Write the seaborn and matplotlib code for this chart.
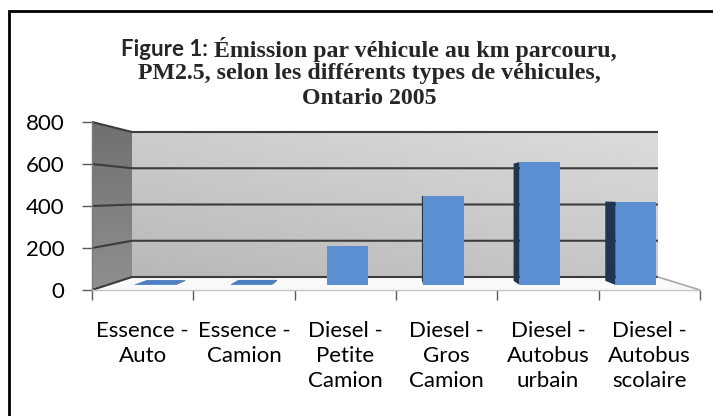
import numpy as np
import pandas as pd
import matplotlib
matplotlib.use("Agg")
import matplotlib.pyplot as plt
import seaborn as sns
from matplotlib.patches import Polygon

# ---------------- data ----------------
categories = ["Essence -\nAuto", "Essence -\nCamion", "Diesel -\nPetite\nCamion",
              "Diesel -\nGros\nCamion", "Diesel -\nAutobus\nurbain", "Diesel -\nAutobus\nscolaire"]
values = [4, 5, 198, 448, 618, 418]
yticks = [0, 200, 400, 600, 800]
title_lead = "Figure 1:"
title_rest = " Émission par véhicule au km parcouru,"
title_line2 = "PM2.5, selon les différents types de véhicules,"
title_line3 = "Ontario 2005"

# ---------------- geometry (pixels, origin top-left) ----------------
W, H, DPI = 713, 416, 100
N = len(categories)
VMAX = 800
FRONT = (92.0, 700.0, 290.0, 0.21)     # x0, x1, y of zero, px per unit
BACK = (132.0, 658.0, 277.0, 0.18125)
D_FACE, D_DEPTH = 0.385, 0.32
HALF_W = 0.21


def plane(d):
    return tuple(f + (b - f) * d for f, b in zip(FRONT, BACK))


def proj(xc, v, d):
    x0, x1, y0, s = plane(d)
    return (x0 + (xc + 0.5) / N * (x1 - x0), y0 - s * v)


sns.set_theme(style="white")
plt.rcParams["font.family"] = ["Lato", "DejaVu Sans"]

fig = plt.figure(figsize=(W / DPI, H / DPI), dpi=DPI)
fig.patch.set_facecolor("white")

# background axes in pixel coordinates
bg = fig.add_axes([0, 0, 1, 1], zorder=0)
bg.set_xlim(0, W)
bg.set_ylim(H, 0)
bg.axis("off")

# back wall with gradient
bl = proj(-0.5, 0, 1)
tr = proj(N - 0.5, VMAX, 1)
gx, gy = np.meshgrid(np.linspace(0, 1, 200), np.linspace(0, 1, 100))
grad = 0.86 - 0.08 * gy - 0.06 * (1 - gx)
bg.imshow(grad, cmap="gray", vmin=0, vmax=1, extent=(bl[0], tr[0], bl[1], tr[1]),
          origin="upper", aspect="auto", zorder=1, interpolation="bilinear")

# left wall
lw_pts = [proj(-0.5, VMAX, 0), proj(-0.5, VMAX, 1), proj(-0.5, 0, 1), proj(-0.5, 0, 0)]
lw_poly = Polygon(lw_pts, closed=True, facecolor="none", edgecolor="none")
bg.add_patch(lw_poly)
lgrad = 0.44 + 0.12 * gy
im = bg.imshow(lgrad, cmap="gray", vmin=0, vmax=1,
               extent=(lw_pts[0][0], lw_pts[1][0], lw_pts[3][1], lw_pts[0][1]),
               origin="upper", aspect="auto", zorder=1, interpolation="bilinear")
im.set_clip_path(lw_poly)

# floor
floor = Polygon([proj(-0.5, 0, 0), proj(-0.5, 0, 1), proj(N - 0.5, 0, 1), proj(N - 0.5, 0, 0)],
                closed=True, facecolor="#fafafa", edgecolor="none", zorder=1)
bg.add_patch(floor)

# gridlines (left wall + back wall)
for v in yticks:
    pts = [proj(-0.5, v, 0), proj(-0.5, v, 1), proj(N - 0.5, v, 1)]
    bg.plot([p[0] for p in pts], [p[1] for p in pts], color="#3c3c3c", lw=1.5,
            zorder=2, solid_capstyle="butt")
# right floor edge
pa, pb = proj(N - 0.5, 0, 1), proj(N - 0.5, 0, 0)
bg.plot([pa[0], pb[0]], [pa[1], pb[1]], color="#a8a8a8", lw=1.2, zorder=2)

# 3D side/top faces of bars (computed from the values)
side_col, top_col = "#1f3551", "#4d7fc1"
d2 = D_FACE + D_DEPTH
for i, v in enumerate(values):
    fl_b, fl_t = proj(i - HALF_W, 0, D_FACE), proj(i - HALF_W, v, D_FACE)
    bl_b, bl_t = proj(i - HALF_W, 0, d2), proj(i - HALF_W, v, d2)
    fr_b, fr_t = proj(i + HALF_W, 0, D_FACE), proj(i + HALF_W, v, D_FACE)
    br_b, br_t = proj(i + HALF_W, 0, d2), proj(i + HALF_W, v, d2)
    if bl_t[0] < fl_t[0]:
        bg.add_patch(Polygon([fl_b, fl_t, bl_t, bl_b], closed=True, facecolor=side_col,
                             edgecolor="none", zorder=3))
    if br_t[0] > fr_t[0] + 1.5:
        bg.add_patch(Polygon([fr_b, fr_t, br_t, br_b], closed=True, facecolor=side_col,
                             edgecolor="none", zorder=3))
    if bl_t[1] < fl_t[1] - 3:
        bg.add_patch(Polygon([fl_t, fr_t, br_t, bl_t], closed=True, facecolor=top_col,
                             edgecolor="none", zorder=3))

# ---------------- front-plane axes (value axis + category axis) ----------------
fx0, fx1, fy0, fs = FRONT
fax = fig.add_axes([fx0 / W, 1 - fy0 / H, (fx1 - fx0) / W, fs * VMAX / H], zorder=2)
fax.patch.set_visible(False)
fax.set_xlim(-0.5, N - 0.5)
fax.set_ylim(0, VMAX)
for sp in ["top", "right"]:
    fax.spines[sp].set_visible(False)
fax.spines["left"].set_color("#7a7a7a")
fax.spines["left"].set_linewidth(1.0)
fax.spines["bottom"].set_color("#c4c4c4")
fax.spines["bottom"].set_linewidth(1.0)
fax.set_yticks(yticks)
fax.set_yticklabels([str(t) for t in yticks])
fax.set_xticks(np.arange(N + 1) - 0.5)
fax.set_xticklabels([])
fax.set_xticks(np.arange(N), minor=True)
fax.set_xticklabels(categories, minor=True, linespacing=1.32)
fax.tick_params(axis="y", which="major", direction="out", length=7, width=1,
                color="#595959", labelsize=16, labelcolor="black", pad=13, left=True)
fax.tick_params(axis="x", which="major", direction="out", length=7, width=1,
                color="#595959", bottom=True)
fax.tick_params(axis="x", which="minor", length=0, labelsize=16, labelcolor="black", pad=22)
fax.grid(False)

# ---------------- bar-plane axes (front faces drawn by seaborn) ----------------
bx0, bx1, by0, bs = plane(D_FACE)
bax = fig.add_axes([bx0 / W, 1 - by0 / H, (bx1 - bx0) / W, bs * VMAX / H], zorder=3)
bax.patch.set_visible(False)
df = pd.DataFrame({"cat": categories, "val": values})
sns.barplot(data=df, x="cat", y="val", ax=bax, color="#5b8fd1", saturation=1,
            width=2 * HALF_W, edgecolor="none", linewidth=0)
bax.set_xlim(-0.5, N - 0.5)
bax.set_ylim(0, VMAX)
bax.axis("off")

# ---------------- title ----------------
cx = 369
serif = ["Liberation Serif", "DejaVu Serif"]
t_size = 17.2
y1, y2, y3 = 49, 74, 99
ta = bg.text(0, y1, title_lead, fontsize=16, fontweight="bold", family=["Lato", "DejaVu Sans"],
             va="center", ha="left", zorder=5)
tb = bg.text(0, y1, title_rest, fontsize=t_size, fontweight="bold", family=serif,
             va="center", ha="left", zorder=5)
fig.canvas.draw()
r = fig.canvas.get_renderer()
wa = ta.get_window_extent(r).width
wb = tb.get_window_extent(r).width
start = cx - (wa + wb) / 2
ta.set_x(start)
tb.set_x(start + wa)
bg.text(cx, y2, title_line2, fontsize=t_size, fontweight="bold", family=serif,
        va="center", ha="center", zorder=5)
bg.text(cx, y3, title_line3, fontsize=t_size, fontweight="bold", family=serif,
        va="center", ha="center", zorder=5)

# chart border (extends beyond the image on right/bottom)
bg.plot([9, 9, W + 10], [H + 10, 11, 11], color="black", lw=2, zorder=6, clip_on=False,
        solid_joinstyle="miter")

fig.savefig("out.png", dpi=DPI)
